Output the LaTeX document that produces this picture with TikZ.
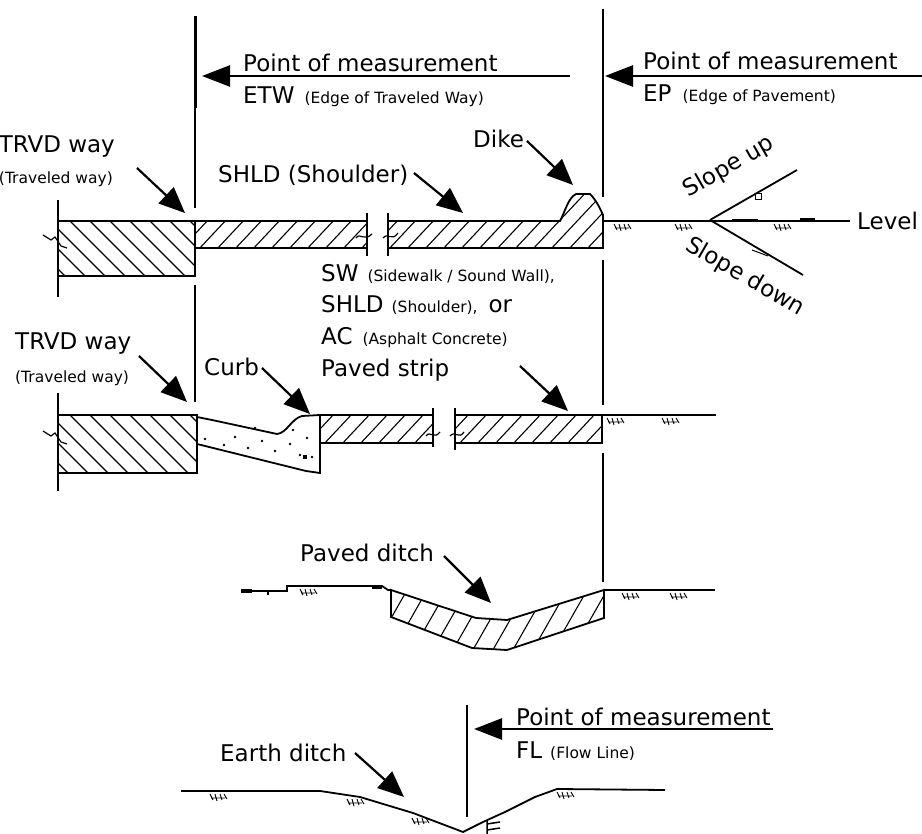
\documentclass[tikz,border=0pt]{standalone}
\usepackage{fontspec}
\newfontfamily\genfont{DejaVu Sans}
\newcommand\smtxt{\fontsize{15.5}{18}\selectfont}
\usetikzlibrary{arrows.meta}
\begin{document}
\begin{tikzpicture}[x=1pt,y=-1pt,
  lbl/.style={inner sep=0pt, anchor=base west, font=\genfont\fontsize{23}{27}\selectfont},
  sml/.style={inner sep=0pt, anchor=base west, font=\genfont\fontsize{15.5}{18}\selectfont},
  bigarr/.style={line width=2.6pt, -{Triangle[length=28pt,width=21pt]}},
  diagarr/.style={line width=2.2pt, -{Triangle[length=26pt,width=22pt]}},
  outl/.style={line width=1.8pt, line join=miter},
  hatch/.style={line width=1.1pt},
  vline/.style={line width=2.2pt},
  gnd/.style={line width=1.8pt},
  tuft/.pic={\draw[line width=0.9pt] (-8,3)--(-5,9) (-3,3)--(-1,10) (2,3)--(4,9) (6,3)--(9,8) (-7,7)--(7,7);}
]
\useasboundingbox (0,0) rectangle (922,834);

%% ---------------- vertical measurement lines
\draw[line width=3pt] (195,16) -- (195,108);
\draw[vline] (195,108) -- (195,208);
\draw[vline] (195,285) -- (195,402);
\draw[vline] (603,9) -- (603,197);
\draw[vline] (603,260) -- (603,405);
\draw[vline] (603,453) -- (603,582);
\draw[vline] (467,705) -- (467,817);

%% ---------------- measurement arrows and labels
\node[lbl] (pm1) at (243,72) {Point of measurement};
\node[lbl] (etw) at (243,104) {ETW{\smtxt\hspace{10pt}(Edge of Traveled Way)}};
\coordinate (p1s) at (570,76); \coordinate (p1t) at (202,76);
\draw[bigarr] (p1s) -- (p1t);

\node[lbl] (pm2) at (643,70) {Point of measurement};
\node[lbl] (ep) at (643,102) {EP{\smtxt\hspace{11pt}(Edge of Pavement)}};
\coordinate (p2s) at (922,76); \coordinate (p2t) at (605,76);
\draw[bigarr] (p2s) -- (p2t);

\node[lbl] (pm3) at (516,725) {Point of measurement};
\node[lbl] (fl) at (516,758) {FL{\smtxt\hspace{8pt}(Flow Line)}};
\coordinate (p3s) at (773,729); \coordinate (p3t) at (474,729);
\draw[bigarr] (p3s) -- (p3t);

%% ---------------- row 1 labels
\node[lbl, anchor=base east] (trvd1) at (115,153) {TRVD way};
\node[sml, anchor=base east] (trvd1s) at (113,184) {(Traveled way)};
\coordinate (a1s) at (137,168); \coordinate (a1t) at (185,213);
\draw[diagarr] (a1s) -- (a1t);

\node[lbl] (shld1) at (218,183) {SHLD (Shoulder)};
\coordinate (a2s) at (414,173); \coordinate (a2t) at (463,213);
\draw[diagarr] (a2s) -- (a2t);

\node[lbl] (dike) at (473,148) {Dike};
\coordinate (a3s) at (527,141); \coordinate (a3t) at (573,185);
\draw[diagarr] (a3s) -- (a3t);

\node[lbl] (level) at (857,230) {Level};
\node[lbl, anchor=center, rotate=30] (sup) at (729,167) {Slope up};
\node[lbl, anchor=center, rotate=-30] (sdown) at (745,277) {Slope down};

%% ---------------- row 1 drawing
% traveled way slab
\begin{scope}
  \clip (58,221) rectangle (195,276);
  \foreach \x in {-10,10,...,200} \draw[hatch] (\x,221) -- ++(62,62);
\end{scope}
\draw[outl] (58,221) rectangle (195,276);
\draw[outl] (58,200) -- (58,297);
\draw[line width=1.2pt] (43,235) -- (51,240) -- (55,237) -- (61,246) -- (67,248);
% shoulder part 1
\begin{scope}
  \clip (195,221) rectangle (367,248);
  \foreach \x in {180,198,...,380} \draw[hatch] (\x,250) -- ++(30,-32);
\end{scope}
\draw[outl] (367,221) -- (195,221) -- (195,248) -- (367,248);
\draw[outl] (367,213) -- (367,256);
\draw[line width=1.2pt] (356,238) .. controls (360,232) and (364,242) .. (372,234);
% shoulder part 2 with dike
\begin{scope}
  \clip (388,221) -- (560,221) .. controls (565,212) and (568,198) .. (576,194) -- (590,194) .. controls (596,200) and (600,208) .. (603,215) -- (603,248) -- (388,248) -- cycle;
  \foreach \x in {370,388,...,620} \draw[hatch] (\x,250) -- ++(60,-64);
\end{scope}
\draw[outl] (388,221) -- (560,221) .. controls (565,212) and (568,198) .. (576,194) -- (590,194) .. controls (596,200) and (600,208) .. (603,215) -- (603,248) -- (388,248);
\draw[outl] (388,213) -- (388,256);
\draw[line width=1.2pt] (383,238) .. controls (388,232) and (392,242) .. (398,233);
% ground and slopes
\draw[gnd] (603,221) -- (850,221);
\draw[line width=3pt] (732,221) -- (758,221);
\draw[line width=3pt] (800,220) -- (815,220);
\pic at (622,221) {tuft};
\pic at (683,221) {tuft};
\pic at (782,221) {tuft};
\draw[gnd] (710,220) -- (797,170);
\draw[gnd] (710,220) -- (803,275);
\draw[line width=1pt] (755,194) rectangle (761,200);
\draw[line width=1pt] (752,250) -- (768,256);

%% ---------------- SW labels
\node[lbl] (sw) at (321,282) {SW{\smtxt\hspace{9pt}(Sidewalk / Sound Wall),}};
\node[lbl] (shld2) at (321,313) {SHLD{\smtxt\hspace{8pt}(Shoulder),}\hspace{11pt}or};
\node[lbl] (ac) at (321,345) {AC{\smtxt\hspace{10pt}(Asphalt Concrete)}};
\node[lbl] (pstrip) at (321,377) {Paved strip};
\coordinate (a4s) at (520,366); \coordinate (a4t) at (568,411);
\draw[diagarr] (a4s) -- (a4t);

%% ---------------- row 2 labels
\node[lbl] (trvd2) at (15,350) {TRVD way};
\node[sml] (trvd2s) at (15,383) {(Traveled way)};
\coordinate (a5s) at (139,356); \coordinate (a5t) at (187,402);
\draw[diagarr] (a5s) -- (a5t);

\node[lbl] (curb) at (204,376) {Curb};
\coordinate (a6s) at (262,368); \coordinate (a6t) at (310,414);
\draw[diagarr] (a6s) -- (a6t);

%% ---------------- row 2 drawing
\begin{scope}
  \clip (58,415) rectangle (197,473);
  \foreach \x in {-10,10,...,200} \draw[hatch] (\x,415) -- ++(64,64);
\end{scope}
\draw[outl] (58,415) rectangle (197,473);
\draw[outl] (58,393) -- (58,491);
\draw[line width=1.2pt] (43,431) -- (51,436) -- (55,433) -- (61,442) -- (67,444);
% curb
\draw[outl] (197,417) -- (212,420) -- (277,434) .. controls (287,433) and (291,419) .. (302,416) -- (320,415) -- (320,473) -- (306,471) -- (197,444);
\foreach \p in {(205,439),(235,437),(248,448),(262,441),(275,451),(290,444),(300,455),(307,438),(312,457),(293,430),(224,445),(255,428)}
  \fill \p circle (1.3);
\fill (303,455) rectangle (307,459);
% paved strip part 1
\begin{scope}
  \clip (320,415) rectangle (433,443);
  \foreach \x in {305,323,...,440} \draw[hatch] (\x,445) -- ++(30,-32);
\end{scope}
\draw[outl] (433,415) -- (320,415) (320,443) -- (433,443);
\draw[outl] (433,408) -- (433,447);
\draw[line width=1.2pt] (426,436) .. controls (430,430) and (434,440) .. (440,432);
% paved strip part 2
\begin{scope}
  \clip (455,415) rectangle (602,443);
  \foreach \x in {440,458,...,610} \draw[hatch] (\x,445) -- ++(30,-32);
\end{scope}
\draw[outl] (455,415) -- (602,415) -- (602,443) -- (455,443);
\draw[outl] (455,408) -- (455,450);
\draw[line width=1.2pt] (450,436) .. controls (455,430) and (459,440) .. (464,432);
\draw[gnd] (602,415) -- (716,415);
\pic at (615,415) {tuft};
\pic at (670,415) {tuft};

%% ---------------- paved ditch
\node[lbl] (pditch) at (300,561) {Paved ditch};
\coordinate (a7s) at (444,556); \coordinate (a7t) at (491,603);
\draw[diagarr] (a7s) -- (a7t);
\draw[gnd] (241,591) -- (287,591) -- (287,586) -- (382,586) -- (388,590) -- (391,590);
\draw[line width=3.5pt] (241,591) -- (252,591) (372,587) -- (382,587);
\draw[line width=1.2pt] (268,591) -- (268,595);
\pic at (308,586) {tuft};
\begin{scope}
  \clip (391,590) -- (476,618) -- (507,620) -- (604,590) -- (604,618) -- (507,650) -- (472,648) -- (391,617) -- cycle;
  \foreach \x in {370,390,...,620} \draw[hatch] (\x,655) -- ++(40,-70);
\end{scope}
\draw[outl] (391,590) -- (476,618) -- (507,620) -- (604,590) -- (604,618) -- (507,650) -- (472,648) -- (391,617) -- cycle;
\draw[gnd] (604,590) -- (715,590);
\pic at (630,590) {tuft};
\pic at (678,590) {tuft};

%% ---------------- earth ditch
\node[lbl] (editch) at (220,761) {Earth ditch};
\coordinate (a8s) at (355,753); \coordinate (a8t) at (404,797);
\draw[diagarr] (a8s) -- (a8t);
\draw[gnd] (181,791) -- (320,791) -- (360,797) -- (413,813) -- (463,832) -- (483,822) -- (505,812) -- (535,797) -- (557,789) -- (665,790);
\pic at (218,791) {tuft};
\pic at (355,796) {tuft};
\pic at (420,815) {tuft};
\pic at (565,789) {tuft};
\draw[line width=1.5pt] (487,820) -- (487,834) (487,824) -- (500,822) (487,830) -- (500,828);
\end{tikzpicture}
\end{document}
